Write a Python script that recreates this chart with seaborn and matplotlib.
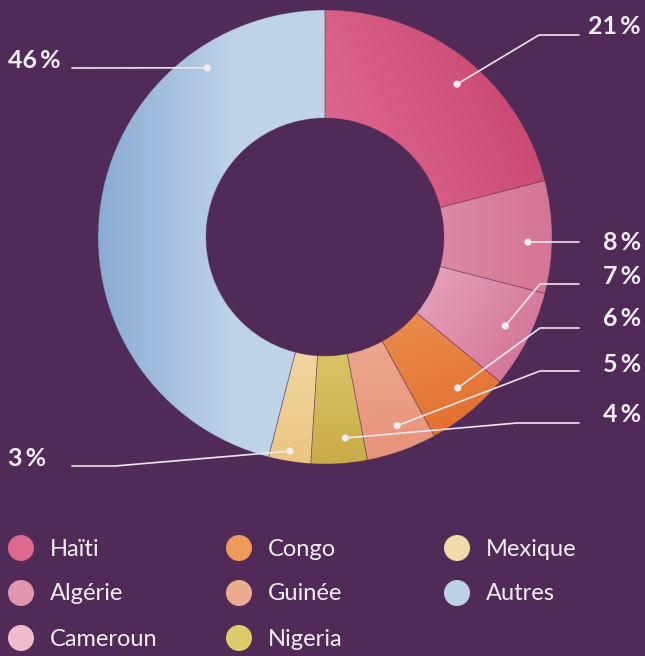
import numpy as np
import matplotlib
matplotlib.use("Agg")
import matplotlib.pyplot as plt
from matplotlib.patches import Circle
from matplotlib.colors import to_rgb
import seaborn as sns

# Répartition par pays d'origine
countries = ["Haïti", "Algérie", "Cameroun", "Congo", "Guinée", "Nigeria", "Mexique", "Autres"]
shares = [21, 8, 7, 6, 5, 4, 3, 46]
base_colors = ["#DD6A8E", "#E196AE", "#F0BCCD", "#EE9A5A", "#ECAA90", "#DECB6A", "#F2DBA8", "#BCD0E8"]

# Dégradés de chaque part : teinte claire -> teinte profonde, direction (degrés)
grad_light = ["#E26E95", "#E39DB5", "#F4C6D4", "#F1A566", "#EEB398", "#E1CF70", "#F3DFAD", "#BED2E8"]
grad_deep = ["#CB4A73", "#D47593", "#D5779A", "#E3702F", "#E7947A", "#C8AC48", "#ECC583", "#88A9D3"]
grad_angle = [25, 0, -35, -70, -80, -90, -90, 180]
grad_start = [0.0, 0.0, 0.0, 0.0, 0.15, 0.3, 0.25, 0.4]

# Mise en page : points d'ancrage des étiquettes et traits de rappel
anchor_frac = [0.54, 0.55, 0.47, 0.42, 0.44, 0.35, 0.53, 0.79]
anchor_r = [202, 203, 201, 201, 202, 202, 217, 206]
elbow_px = [(539, 35), (540, 242), (540, 284), (540, 328), (540, 371), (517, 423), (115, 466), (72, 68)]
end_x = [579, 579, 579, 579, 579, 579, 72, 72]
label_y = [26, 242, 276, 319, 364, 414, 458, 60]

W, H = 645, 656
BG = "#502B58"
INK = "#F3EEF3"

sns.set_style("white", {"axes.facecolor": BG, "figure.facecolor": BG})
plt.rcParams["font.family"] = ["Lato", "DejaVu Sans"]
palette = sns.color_palette(base_colors)

fig = plt.figure(figsize=(W / 100, H / 100), dpi=100, facecolor=BG)
ax = fig.add_axes([0, 0, 1, 1])
ax.set_facecolor(BG)

cx, cy, R = 325, H - 237, 227
wedges, _ = ax.pie(shares, colors=palette, startangle=90, counterclock=False,
                   radius=R, center=(cx, cy),
                   wedgeprops=dict(width=108, linewidth=0))

xs = np.arange(W) + 0.5
ys = np.arange(H) + 0.5
X, Y = np.meshgrid(xs, ys)

for i, w in enumerate(wedges):
    a = np.deg2rad(grad_angle[i])
    d = np.array([np.cos(a), np.sin(a)])
    verts = w.get_path().vertices
    proj = verts @ d
    lo, hi = proj.min(), proj.max()
    t = ((X * d[0] + Y * d[1]) - lo) / (hi - lo)
    s = grad_start[i]
    t = np.clip((t - s) / (1 - s), 0, 1)
    c0 = np.array(to_rgb(grad_light[i]))
    c1 = np.array(to_rgb(grad_deep[i]))
    img = c0[None, None, :] + t[..., None] * (c1 - c0)[None, None, :]
    im = ax.imshow(img, extent=(0, W, 0, H), origin="lower", interpolation="bilinear", zorder=2)
    im.set_clip_path(w)
    w.set_facecolor("none")
    w.set_edgecolor((0.33, 0.18, 0.35, 0.35))
    w.set_linewidth(0.6)
    w.set_zorder(3)

# Traits de rappel et pourcentages
for i, w in enumerate(wedges):
    th = w.theta2 - anchor_frac[i] * (w.theta2 - w.theta1)
    px = cx + anchor_r[i] * np.cos(np.deg2rad(th))
    py = cy + anchor_r[i] * np.sin(np.deg2rad(th))
    ex, ey = elbow_px[i]
    ey = H - ey
    ax.plot([px, ex, end_x[i]], [py, ey, ey], color="#EDE6EE", lw=1.2, zorder=4,
            solid_capstyle="round", solid_joinstyle="round")
    ax.add_patch(Circle((px, py), 3.6, color="#F1ECF1", zorder=5, lw=0))
    right = end_x[i] > cx
    ax.text(641 if right else 8, H - label_y[i], f"{shares[i]}\u2009%",
            ha="right" if right else "left", va="center", fontsize=18,
            fontweight="bold", color=INK, zorder=6)

# Légende
leg_x = [21, 239, 457]
leg_y = [548, 593, 638]
for i, name in enumerate(countries):
    col, row = divmod(i, 3)
    lx, ly = leg_x[col], H - leg_y[row]
    ax.add_patch(Circle((lx, ly), 13, color=base_colors[i], lw=0, zorder=4))
    ax.text(lx + 29, ly - 1, name, ha="left", va="center", fontsize=17,
            color=INK, zorder=6)

ax.set_xlim(0, W)
ax.set_ylim(0, H)
ax.set_aspect("equal")
ax.axis("off")

fig.savefig("out.png", dpi=100, facecolor=BG)
